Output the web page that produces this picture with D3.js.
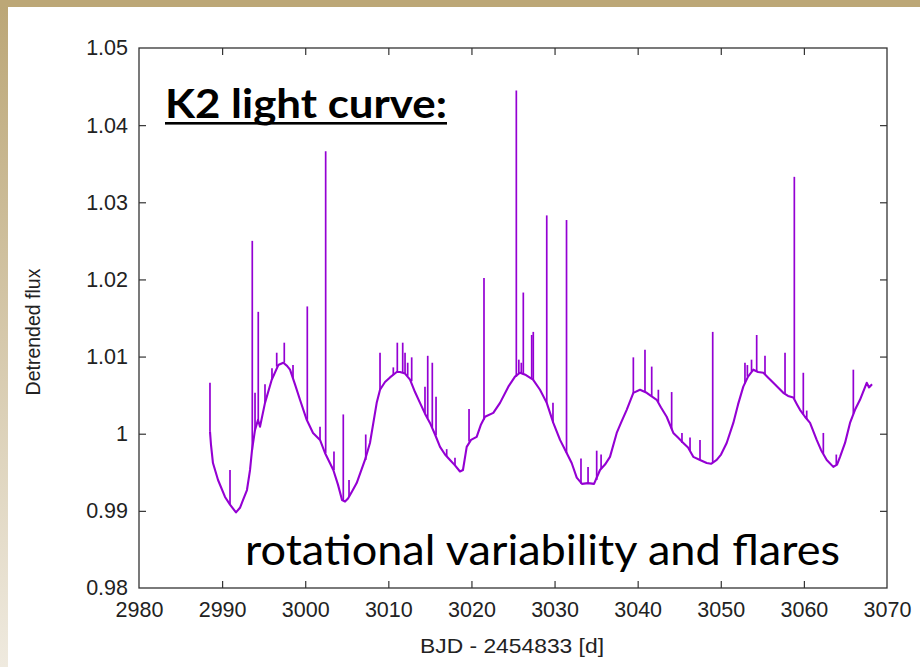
<!DOCTYPE html>
<html><head><meta charset="utf-8">
<script src="https://cdn.jsdelivr.net/npm/d3@7"></script>
<style>
html,body{margin:0;padding:0;background:#fff;}
svg{display:block;}
</style></head>
<body>
<svg id="chart" width="920" height="667"></svg>
<script>
// ---- data ----
const xTicks = [2980, 2990, 3000, 3010, 3020, 3030, 3040, 3050, 3060, 3070];
const yTicks = [0.98, 0.99, 1.00, 1.01, 1.02, 1.03, 1.04, 1.05];
const yTickLabels = ["0.98", "0.99", "1", "1.01", "1.02", "1.03", "1.04", "1.05"];

// quiescent (rotational) light curve
const baseTime = [2988.54,2988.66,2988.90,2989.51,2990.35,2990.95,2991.67,2992.15,2992.51,2992.99,2993.36,2993.60,2993.96,2994.32,2994.56,2995.16,2995.97,2996.76,2997.36,2997.81,2998.17,2998.77,2999.37,3000.18,3000.94,3001.78,3002.38,3003.38,3003.94,3004.43,3004.79,3005.15,3005.63,3006.19,3007.19,3007.79,3008.60,3009.00,3009.60,3010.20,3011.01,3011.40,3012.01,3012.61,3013.21,3013.81,3014.41,3015.01,3015.62,3016.22,3016.82,3017.42,3018.02,3018.62,3018.98,3019.43,3019.95,3020.63,3021.15,3021.63,3022.63,3023.44,3024.44,3025.24,3025.84,3026.56,3027.41,3028.25,3029.06,3029.85,3030.66,3031.46,3032.06,3032.67,3033.30,3034.03,3034.75,3035.47,3036.07,3036.67,3037.48,3037.99,3038.68,3039.48,3040.28,3041.09,3041.60,3042.29,3042.81,3043.49,3044.29,3044.85,3045.49,3046.06,3046.69,3047.50,3048.31,3048.83,3049.51,3050.03,3050.71,3051.51,3052.08,3052.71,3053.28,3053.92,3054.48,3055.12,3055.68,3056.32,3056.89,3057.52,3058.09,3058.73,3059.17,3059.53,3060.13,3060.74,3061.54,3062.06,3062.75,3063.54,3063.99,3064.35,3064.95,3065.55,3066.15,3066.75,3067.56,3067.84,3068.20];
const baseFlux = [1.0003,0.9986,0.9962,0.9940,0.9918,0.9908,0.9898,0.9904,0.9914,0.9927,0.9953,0.9979,1.0005,1.0018,1.0009,1.0040,1.0070,1.0089,1.0092,1.0088,1.0083,1.0064,1.0044,1.0018,1.0001,0.9992,0.9975,0.9953,0.9934,0.9914,0.9912,0.9916,0.9925,0.9936,0.9966,0.9988,1.0040,1.0057,1.0067,1.0073,1.0080,1.0080,1.0078,1.0070,1.0054,1.0040,1.0026,1.0014,0.9999,0.9983,0.9973,0.9966,0.9959,0.9951,0.9953,0.9983,0.9992,0.9996,1.0012,1.0022,1.0027,1.0040,1.0061,1.0074,1.0079,1.0076,1.0070,1.0057,1.0040,1.0014,0.9992,0.9975,0.9962,0.9943,0.9935,0.9936,0.9935,0.9953,0.9960,0.9970,1.0001,1.0014,1.0031,1.0053,1.0057,1.0053,1.0049,1.0044,1.0034,1.0022,1.0001,0.9995,0.9988,0.9982,0.9970,0.9966,0.9962,0.9961,0.9966,0.9973,0.9988,1.0014,1.0038,1.0061,1.0074,1.0083,1.0080,1.0079,1.0073,1.0066,1.0060,1.0053,1.0049,1.0047,1.0038,1.0031,1.0022,1.0014,0.9992,0.9979,0.9966,0.9957,0.9960,0.9970,0.9988,1.0014,1.0031,1.0044,1.0066,1.0060,1.0064];

// flares: time, flux at the foot, flux at the peak
const flareTime = [2988.54,2990.95,2993.63,2993.96,2994.35,2995.16,2996.00,2996.57,2997.48,2998.53,3000.25,3001.78,3002.46,3003.46,3004.58,3005.27,3007.28,3009.00,3010.60,3011.08,3011.73,3012.01,3012.33,3012.81,3014.41,3014.74,3015.29,3015.74,3017.02,3018.02,3019.71,3021.51,3025.40,3025.70,3026.00,3026.24,3027.25,3027.44,3029.06,3029.81,3031.44,3033.18,3034.03,3035.07,3035.60,3039.48,3040.88,3041.69,3042.49,3044.09,3045.33,3046.30,3047.50,3049.03,3052.91,3053.20,3053.70,3054.32,3055.32,3057.73,3058.85,3059.93,3060.34,3062.34,3063.90,3065.95];
const flareFoot = [1.0003,0.9908,0.9979,1.0005,1.0018,1.0040,1.0070,1.0087,1.0092,1.0071,1.0018,0.9992,0.9975,0.9953,0.9914,0.9918,0.9966,1.0057,1.0076,1.0080,1.0080,1.0078,1.0075,1.0068,1.0026,1.0020,1.0008,0.9998,0.9971,0.9959,0.9990,1.0018,1.0074,1.0078,1.0078,1.0077,1.0071,1.0070,1.0040,1.0014,0.9975,0.9935,0.9936,0.9940,0.9955,1.0053,1.0054,1.0049,1.0041,1.0006,0.9988,0.9978,0.9966,0.9963,1.0065,1.0074,1.0081,1.0081,1.0077,1.0052,1.0045,1.0025,1.0019,0.9974,0.9960,1.0026];
const flarePeak = [1.0066,0.9953,1.0250,1.0053,1.0158,1.0064,1.0085,1.0105,1.0118,1.0089,1.0165,1.0009,1.0366,0.9977,1.0025,0.9940,0.9999,1.0105,1.0086,1.0118,1.0118,1.0105,1.0092,1.0099,1.0061,1.0101,1.0092,1.0048,0.9980,0.9969,1.0032,1.0202,1.0445,1.0096,1.0092,1.0183,1.0128,1.0132,1.0283,1.0040,1.0277,0.9968,0.9957,0.9978,0.9973,1.0099,1.0109,1.0087,1.0057,1.0054,1.0001,0.9995,0.9992,1.0132,1.0092,1.0089,1.0096,1.0128,1.0101,1.0105,1.0333,1.0079,1.0030,1.0001,0.9973,1.0083];

// ---- drawing ----
const svg = d3.select("#chart");
const W = 920, H = 667;

// slide background bands
const defs = svg.append("defs");
const lg = defs.append("linearGradient").attr("id","leftband").attr("x1",0).attr("y1",0).attr("x2",0).attr("y2",1);
lg.append("stop").attr("offset","0%").attr("stop-color","#bba676");
lg.append("stop").attr("offset","100%").attr("stop-color","#efeadf");
svg.append("rect").attr("x",0).attr("y",0).attr("width",W).attr("height",H).attr("fill","#ffffff");
svg.append("rect").attr("x",0).attr("y",0).attr("width",8).attr("height",H).attr("fill","url(#leftband)");
svg.append("rect").attr("x",0).attr("y",0).attr("width",W).attr("height",7).attr("fill","#bca777");

const L = 139, R = 887, T = 48, B = 588;
const x = d3.scaleLinear().domain([2980, 3070]).range([L, R]);
const y = d3.scaleLinear().domain([0.98, 1.05]).range([B, T]);

const FONT = "'Liberation Sans', Arial, Helvetica, sans-serif";
const tickLen = 7;
const axisColor = "#333";

// frame
svg.append("rect").attr("x",L).attr("y",T).attr("width",R-L).attr("height",B-T)
  .attr("fill","none").attr("stroke",axisColor).attr("stroke-width",1.3);

// axes via d3-axis (inward ticks, mirrored)
const gxB = svg.append("g").attr("transform",`translate(0,${B})`)
  .call(d3.axisBottom(x).tickValues(xTicks).tickSize(-tickLen).tickPadding(14).tickFormat(d3.format("d")));
const gxT = svg.append("g").attr("transform",`translate(0,${T})`)
  .call(d3.axisTop(x).tickValues(xTicks).tickSize(-tickLen).tickFormat(""));
const gyL = svg.append("g").attr("transform",`translate(${L},0)`)
  .call(d3.axisLeft(y).tickValues(yTicks).tickSize(-tickLen).tickPadding(11).tickFormat((d,i)=>yTickLabels[i]));
const gyR = svg.append("g").attr("transform",`translate(${R},0)`)
  .call(d3.axisRight(y).tickValues(yTicks).tickSize(-tickLen).tickFormat(""));
[gxB,gxT,gyL,gyR].forEach(g=>{
  g.select(".domain").remove();
  g.selectAll(".tick line").attr("stroke",axisColor).attr("stroke-width",1.2);
  g.selectAll(".tick text").attr("fill","#222").style("font-family",FONT).style("font-size","21.5px");
});
// remove end ticks that coincide with the frame corners
gxB.selectAll(".tick line").filter(d=>d===2980||d===3070).remove();
gxT.selectAll(".tick line").filter(d=>d===2980||d===3070).remove();
gyL.selectAll(".tick line").filter(d=>d===0.98||d===1.05).remove();
gyR.selectAll(".tick line").filter(d=>d===0.98||d===1.05).remove();

// axis titles
svg.append("text").attr("x",512).attr("y",653).attr("text-anchor","middle")
  .attr("textLength",184).attr("lengthAdjust","spacingAndGlyphs")
  .style("font-family",FONT).style("font-size","21px").attr("fill","#222").text("BJD - 2454833 [d]");
svg.append("text").attr("transform",`translate(40,332) rotate(-90)`).attr("text-anchor","middle")
  .style("font-family",FONT).style("font-size","19.5px").attr("fill","#222").text("Detrended flux");

// light curve
const purple = "#9400d3";
const pts = baseTime.map((t,i)=>[t, baseFlux[i]]);
svg.append("path").datum(pts)
  .attr("d", d3.line().x(d=>x(d[0])).y(d=>y(d[1])))
  .attr("fill","none").attr("stroke",purple).attr("stroke-width",2.1).attr("stroke-linejoin","round");
svg.append("g").selectAll("line").data(flareTime).join("line")
  .attr("x1",d=>x(d)).attr("x2",d=>x(d))
  .attr("y1",(d,i)=>y(flareFoot[i])).attr("y2",(d,i)=>y(flarePeak[i]))
  .attr("stroke",purple).attr("stroke-width",1.7);

// annotations
const TFONT = "Lato, 'Open Sans', sans-serif";
svg.append("text").attr("x",165).attr("y",118)
  .attr("textLength",282).attr("lengthAdjust","spacingAndGlyphs")
  .style("font-family",TFONT).style("font-weight","bold").style("font-size","41px").attr("fill","#000")
  .text("K2 light curve:");
svg.append("rect").attr("x",165).attr("y",122).attr("width",282).attr("height",2.6).attr("fill","#000");
svg.append("text").attr("x",245).attr("y",565)
  .attr("textLength",595).attr("lengthAdjust","spacingAndGlyphs")
  .style("font-family",TFONT).style("font-size","42px").attr("fill","#000")
  .text("rotational variability and flares");
</script>
</body></html>
